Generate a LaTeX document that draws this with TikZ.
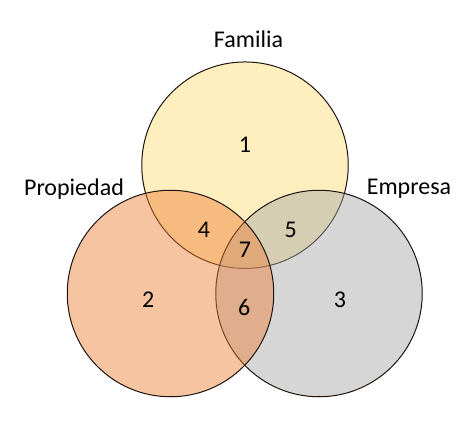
\documentclass[tikz,border=0pt]{standalone}
\usepackage{fontspec}
\setmainfont{Carlito}
\definecolor{famcol}{RGB}{255,192,0}
\definecolor{propcol}{RGB}{237,125,49}
\definecolor{empcol}{RGB}{165,165,165}
\definecolor{edge}{RGB}{30,20,15}
\begin{document}
\begin{tikzpicture}[x=1pt,y=-1pt,
  venn/.style={circle, minimum size=206.5pt, inner sep=0pt, draw=edge, line width=1pt},
  lbl/.style={font=\fontsize{24}{28}\selectfont, inner sep=0pt, anchor=base},
  num/.style={font=\fontsize{24}{28}\selectfont, inner sep=0pt}]
\useasboundingbox (0,0) rectangle (474,426);
\node[venn, fill=famcol, fill opacity=0.25] (fam) at (245,165.2) {};
\node[venn, fill=empcol, fill opacity=0.45] (emp) at (319,293.5) {};
\node[venn, fill=propcol, fill opacity=0.45] (prop) at (170.5,293.5) {};
\node[lbl] (tfam) at (248.5,47.7) {Familia};
\node[lbl] (tprop) at (74,195) {Propiedad};
\node[lbl] (temp) at (409,194) {Empresa};
\node[num] (n1) at (245,145) {1};
\node[num] (n2) at (148.3,300) {2};
\node[num] (n3) at (340,300) {3};
\node[num] (n4) at (204,230) {4};
\node[num] (n5) at (290.7,230) {5};
\node[num] (n7) at (245,250) {7};
\node[num] (n6) at (244.3,307) {6};
\end{tikzpicture}
\end{document}
